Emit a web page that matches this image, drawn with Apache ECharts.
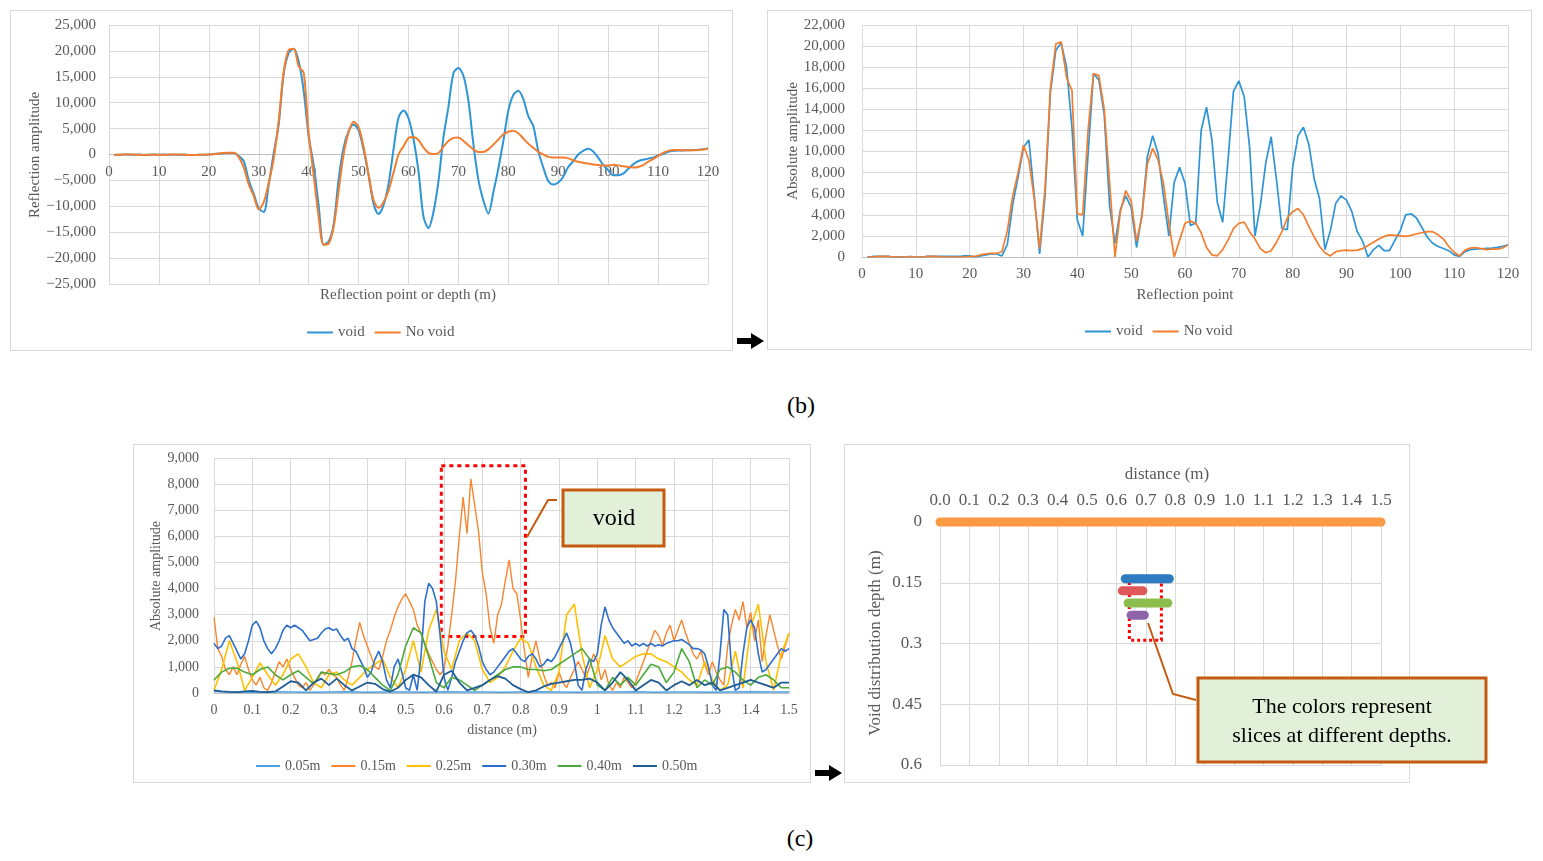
<!DOCTYPE html>
<html>
<head>
<meta charset="utf-8">
<title>Void reflection slices</title>
<script src="https://cdn.jsdelivr.net/npm/echarts@6/dist/echarts.min.js"></script>
<style>
  html, body { margin: 0; padding: 0; background: #fff; }
  #wrap { position: relative; width: 1543px; height: 861px; overflow: hidden; font-family: 'Liberation Serif', serif; }
  .frame { position: absolute; border: 1px solid #D9D9D9; background: #fff; box-sizing: border-box; }
  .cap { position: absolute; font-size: 24px; color: #000; transform: translate(-50%, -50%); }
  #chart { position: absolute; left: 0; top: 0; width: 1543px; height: 861px; }
</style>
</head>
<body>
<div id="wrap">
  <div class="frame" style="left:10px;top:10px;width:723px;height:341px"></div>
  <div class="frame" style="left:767px;top:10px;width:765px;height:340px"></div>
  <div class="frame" style="left:133px;top:444px;width:678px;height:339px"></div>
  <div class="frame" style="left:844px;top:444px;width:566px;height:339px"></div>
  <div class="cap" style="left:801px;top:405px">(b)</div>
  <div class="cap" style="left:800px;top:838px">(c)</div>
  <div id="chart"></div>
</div>
<script>
// ---- (b) reflection points 1..120
const reflPoints = Array.from({length: 120}, (_, i) => i + 1);

// signed reflection amplitude
const ampVoid = [
  -100, -50, 0, 0, -50, 0, -100, -50, 0, -50,
  0, -50, 0, -50, 0, -100, -100, -50, -50, 0,
  100, 150, 250, 300, 300, -300, -1300, -5000, -7600, -10400,
  -11100, -5800, 300, 5800, 15600, 19600, 20400, 18000, 12300, 3500,
  -2000, -9800, -17400, -16800, -13500, -4800, 1300, 4500, 5800, 4700,
  900, -4000, -9500, -11500, -9800, -5700, 1000, 7100, 8500, 7000,
  3000, -3200, -12000, -14200, -11100, -5200, 3300, 9200, 15700, 16700,
  15200, 10400, 2000, -4900, -8900, -11400, -7300, -2700, 2600, 8500,
  11500, 12300, 10700, 7400, 5500, 700, -2500, -5100, -5800, -5400,
  -4300, -2400, -1300, 0, 700, 1100, 600, -600, -2000, -3000,
  -4000, -4000, -3700, -2800, -1900, -1300, -1000, -800, -600, -200,
  100, 500, 700, 750, 780, 820, 850, 920, 1000, 1150
];
const ampNoVoid = [
  -100, -50, 0, 0, 0, -50, -100, -50, 0, -50,
  -50, 0, 0, 0, -50, -100, -100, -50, -50, 0,
  50, 200, 300, 350, 350, -500, -2500, -5800, -8000, -10600,
  -9200, -5500, -800, 6500, 16000, 20200, 20400, 17000, 15800, 4100,
  -4000, -12000, -17400, -17200, -14000, -7000, 0, 4300, 6300, 5300,
  1500, -3800, -8800, -10300, -9200, -7000, -3500, 0, 1600, 3200,
  3400, 2800, 1350, 300, 100, 300, 1500, 2600, 3200, 3300,
  2600, 1800, 1000, 500, 500, 1000, 1900, 2900, 3900, 4400,
  4600, 4100, 3100, 2100, 1300, 500, 0, -450, -600, -600,
  -600, -750, -1100, -1400, -1600, -1750, -1950, -2050, -2100, -2100,
  -2000, -2100, -2250, -2400, -2500, -2400, -2050, -1400, -900, -250,
  300, 700, 850, 850, 800, 800, 800, 850, 950, 1150
];

// absolute amplitude
const absVoid = [
  0, 50, 50, 50, 50, 0, 0, 0, 50, 0,
  0, 50, 50, 50, 50, 50, 50, 50, 100, 100,
  0, 100, 200, 300, 300, 100, 1200, 5000, 7600, 10400,
  11100, 5800, 300, 5800, 15600, 19600, 20300, 18000, 12300, 3500,
  2000, 9800, 17400, 16800, 13500, 4800, 1300, 4500, 5800, 4700,
  900, 4000, 9500, 11500, 9800, 5700, 2000, 7100, 8500, 7000,
  3000, 3200, 12000, 14200, 11100, 5200, 3300, 9200, 15700, 16700,
  15200, 10400, 2000, 4900, 8900, 11400, 7300, 2700, 2600, 8500,
  11500, 12300, 10700, 7400, 5500, 700, 2500, 5100, 5800, 5400,
  4300, 2400, 1500, 0, 700, 1100, 600, 600, 1600, 2500,
  4000, 4100, 3700, 2800, 1900, 1300, 1000, 800, 600, 200,
  50, 500, 700, 750, 780, 820, 850, 920, 1000, 1150
];
const absNoVoid = [
  0, 0, 50, 50, 50, 0, 0, 0, 50, 0,
  0, 50, 50, 50, 0, 0, 0, 0, 0, 50,
  50, 200, 300, 350, 350, 500, 2500, 5800, 8000, 10600,
  9200, 5500, 800, 6500, 16000, 20200, 20400, 17000, 15800, 4100,
  4000, 12000, 17400, 17200, 14000, 7000, 0, 4300, 6300, 5300,
  1500, 3800, 8800, 10300, 9200, 7000, 3200, 0, 1600, 3200,
  3400, 3200, 2300, 900, 200, 100, 700, 1600, 2700, 3200,
  3300, 2400, 1700, 800, 400, 600, 1400, 2400, 3700, 4300,
  4600, 4000, 2900, 1900, 1000, 400, 100, 500, 600, 650,
  600, 650, 800, 1100, 1400, 1700, 1950, 2100, 2050, 2000,
  1950, 2050, 2200, 2300, 2400, 2400, 2100, 1700, 1000, 450,
  100, 650, 850, 900, 800, 700, 750, 750, 850, 1150
];

// ---- (c) slices along distance (m)
const distFine = Array.from({length: 151}, (_, i) => +(i * 0.01).toFixed(2));
const distMid = Array.from({length: 76}, (_, i) => +(i * 0.02).toFixed(2));
const distCoarse = Array.from({length: 31}, (_, i) => +(i * 0.05).toFixed(2));

const amp005 = [60, 40, 30, 50, 40, 30, 40, 50, 30, 40, 40, 30, 50, 40, 40, 30,
  40, 50, 40, 30, 40, 40, 50, 30, 40, 40, 30, 40, 50, 40, 40];
const amp015 = [
  2900, 1700, 1400, 900, 700, 1000, 700, 1100, 1400, 900,
  500, 300, 600, 200, 100, 400, 800, 1200, 1000, 1300,
  900, 600, 300, 200, 400, 100, 300, 500, 800, 700,
  900, 700, 600, 300, 100, 600, 1200, 2000, 2700, 2200,
  1800, 1400, 1000, 900, 1400, 2000, 2400, 2900, 3300, 3600,
  3800, 3500, 3200, 2600, 2300, 1900, 1500, 1200, 900, 700,
  900, 1800, 3000, 4300, 6000, 7500, 6100, 8200, 7200, 6200,
  4600, 3800, 2500, 1900, 3000, 3400, 4300, 5100, 4000, 3800,
  2800, 1600, 600, 1400, 2000, 1300, 700, 300, 400, 200,
  800, 400, 200, 600, 900, 1200, 900, 600, 1000, 1500,
  1200, 500, 900, 300, 100, 400, 200, 600, 400, 200,
  400, 800, 1200, 1600, 2000, 2400, 2200, 1800, 2300, 2600,
  2000, 2400, 2800, 2300, 1900, 1500, 1300, 1600, 1100, 700,
  1200, 800, 500, 300, 1800, 2600, 3200, 2800, 3500, 2500,
  3100, 2000, 2800, 1200, 2200, 3000, 2400, 1800, 1300, 1800, 2300
];
const amp025 = [
  100, 900, 2000, 1200, 100, 600, 1150, 700, 300, 700,
  1300, 1500, 1000, 400, 200, 700, 800, 500, 300, 600,
  900, 1100, 1300, 600, 200, 900, 2000, 800, 2400, 3200,
  1600, 900, 2000, 2300, 2000, 900, 400, 600, 1000, 1600,
  2100, 1900, 1000, 300, 100, 800, 3000, 3400, 1500, 200,
  900, 2200, 1300, 1000, 1200, 1400, 1500, 1500, 1300, 1200,
  1000, 800, 500, 300, 1200, 500, 100, 300, 1600, 200,
  2500, 3400, 1200, 100, 1500, 2300
];
const amp030 = [
  1900, 1700, 1800, 2100, 2200, 1900, 1600, 1300, 1500, 2000,
  2600, 2750, 2500, 2000, 1700, 1500, 1700, 2000, 2400, 2600,
  2500, 2600, 2500, 2400, 2200, 2000, 2050, 2100, 2300, 2450,
  2500, 2400, 2450, 2200, 2000, 2100, 1700, 1600, 1300, 1000,
  600, 800, 1300, 1600, 1200, 500, 200, 1000, 1300, 800,
  200, 100, 700, 100, 1400, 3500, 4200, 4000, 3500, 2200,
  600, 100, 600, 1200, 1600, 2000, 2300, 2400, 2200, 1800,
  1200, 900, 700, 800, 1000, 1200, 1400, 1600, 1700, 1500,
  1300, 1200, 1400, 1500, 1300, 1000, 1100, 1300, 1200, 1400,
  1700, 2000, 2300, 1900, 1200, 300, 100, 900, 1300, 1200,
  1500, 2600, 3300, 2800, 2500, 2300, 2100, 1900, 2000, 1800,
  1900, 1800, 1900, 1800, 1900, 1800, 1850, 1800, 1900, 1950,
  2000, 2000, 2050, 1950, 1850, 1700, 1700, 1650, 1500, 1000,
  300, 100, 1500, 3200, 3000, 1000, 100, 200, 1500, 2500,
  2800, 2500, 1500, 800, 900, 1100, 1300, 1500, 1700, 1600, 1700
];
const amp040 = [
  500, 800, 950, 950, 800, 700, 900, 1000, 700, 500,
  700, 850, 600, 350, 800, 750, 700, 800, 1000, 1050,
  900, 600, 300, 100, 700, 1800, 2500, 2300, 1400, 400,
  200, 600, 500, 300, 100, 300, 500, 700, 900, 1000,
  1000, 900, 900, 850, 900, 1100, 1300, 1500, 1700, 1300,
  300, 100, 600, 300, 600, 300, 700, 1100, 1000, 400,
  800, 1700, 1200, 200, 500, 300, 900, 1000, 800, 500,
  300, 600, 700, 500, 200, 200
];
const amp050 = [
  100, 60, 40, 30, 60, 80, 40, 30, 60, 250,
  450, 400, 100, 400, 550, 300, 550, 300, 100, 250,
  400, 350, 150, 50, 200, 500, 700, 600, 300, 50,
  700, 850, 400, 100, 200, 300, 500, 650, 550, 300,
  150, 30, 100, 250, 350, 400, 450, 500, 500, 550,
  400, 100, 400, 800, 500, 100, 300, 500, 400, 100,
  300, 450, 300, 500, 300, 400, 100, 200, 300, 400,
  500, 400, 300, 200, 400, 400
];

// void distribution: slice segments (distance from / to, depth)
const sliceFrom = [0, 0.63, 0.62, 0.64, 0.65];
const sliceTo = [1.5, 0.78, 0.69, 0.775, 0.695];
const sliceDepth = [0, 0.14, 0.17, 0.20, 0.23];

const C_VOID = '#2E95D6', C_NOVOID = '#F47D2E';
const sliceColors = ['#FA9A42', '#2E7BC2', '#E0575A', '#8CBE4E', '#8E63A8'];
const depthColors = ['#4C9FE0', '#F7862E', '#FFC000', '#2D6FCB', '#4CAA3A', '#1F5D94'];
const FONT = 'Liberation Serif';

function pairs(xs, ys) {
  return xs.map((x, i) => [x, ys[i]]);
}
function thousands(v) {
  return (v < 0 ? '\u2212' : '') + Math.abs(v).toLocaleString('en-US');
}

let gridLine = {lineStyle: {color: '#D9D9D9', width: 1}};
let lbl = (size, margin, fmt) => ({color: '#595959', fontSize: size, fontFamily: FONT, margin: margin, formatter: fmt});
let axisTitle = (text, x, y, size, vertical) => ({
  type: 'text', x: x, y: y, rotation: vertical ? Math.PI / 2 : 0, silent: true,
  style: {text: text, fill: '#595959', font: size + 'px "' + FONT + '"', textAlign: 'center', textVerticalAlign: 'middle'}
});
let legendBase = {
  icon: 'rect', itemHeight: 2, selectedMode: false,
  textStyle: {color: '#595959', fontFamily: FONT}
};

let chart = echarts.init(document.getElementById('chart'));

let series = [
  {name: 'void', data: pairs(reflPoints, ampVoid), color: C_VOID, grid: 0, smooth: 0.3, width: 2},
  {name: 'No void', data: pairs(reflPoints, ampNoVoid), color: C_NOVOID, grid: 0, smooth: 0.3, width: 2},
  {name: 'void', data: pairs(reflPoints, absVoid), color: C_VOID, grid: 1, smooth: false, width: 1.7},
  {name: 'No void', data: pairs(reflPoints, absNoVoid), color: C_NOVOID, grid: 1, smooth: false, width: 1.7},
  {name: '0.05m', data: pairs(distCoarse, amp005), color: depthColors[0], grid: 2, width: 1.4},
  {name: '0.15m', data: pairs(distFine, amp015), color: depthColors[1], grid: 2, width: 1.4},
  {name: '0.25m', data: pairs(distMid, amp025), color: depthColors[2], grid: 2, width: 1.6},
  {name: '0.30m', data: pairs(distFine, amp030), color: depthColors[3], grid: 2, width: 1.6},
  {name: '0.40m', data: pairs(distMid, amp040), color: depthColors[4], grid: 2, width: 1.6},
  {name: '0.50m', data: pairs(distMid, amp050), color: depthColors[5], grid: 2, width: 1.8}
].map(s => ({
  name: s.name, type: 'line', xAxisIndex: s.grid, yAxisIndex: s.grid,
  data: s.data, symbol: 'none', smooth: s.smooth || false,
  lineStyle: {width: s.width, color: s.color}, itemStyle: {color: s.color},
  emphasis: {disabled: true}
}));

// red dotted frame around the void response
series[5].markArea = {
  silent: true,
  itemStyle: {color: 'rgba(0,0,0,0)', borderColor: '#FF0000', borderWidth: 3, borderType: [4, 4]},
  data: [[{coord: [0.593, 8700]}, {coord: [0.8125, 2160]}]]
};

sliceFrom.forEach((x0, i) => {
  let s = {
    name: 'slice' + i, type: 'line', xAxisIndex: 3, yAxisIndex: 3,
    data: [[x0, sliceDepth[i]], [sliceTo[i], sliceDepth[i]]],
    symbol: 'none', clip: false,
    lineStyle: {width: 9, color: sliceColors[i], cap: 'round'},
    itemStyle: {color: sliceColors[i]}, emphasis: {disabled: true}
  };
  if (i === 1) {
    s.markArea = {
      silent: true,
      itemStyle: {color: 'rgba(0,0,0,0)', borderColor: '#FF0000', borderWidth: 3, borderType: [3, 3]},
      data: [[{coord: [0.644, 0.142]}, {coord: [0.753, 0.292]}]]
    };
  }
  series.push(s);
});

let option = {
  animation: false,
  textStyle: {fontFamily: FONT},
  grid: [
    {left: 109, top: 25, width: 599, height: 259},
    {left: 862, top: 25, width: 646, height: 232},
    {left: 214, top: 458, width: 575, height: 235},
    {left: 940, top: 522, width: 441, height: 243}
  ],
  legend: [
    Object.assign({}, legendBase, {data: ['void', 'No void'], left: 302, top: 320, itemWidth: 26, itemGap: 10,
      textStyle: {color: '#595959', fontFamily: FONT, fontSize: 15}}),
    Object.assign({}, legendBase, {data: ['void', 'No void'], left: 1080, top: 319, itemWidth: 26, itemGap: 10,
      textStyle: {color: '#595959', fontFamily: FONT, fontSize: 15}}),
    Object.assign({}, legendBase, {data: ['0.05m', '0.15m', '0.25m', '0.30m', '0.40m', '0.50m'], left: 251, top: 754,
      itemWidth: 24, itemGap: 11, textStyle: {color: '#595959', fontFamily: FONT, fontSize: 14}})
  ],
  xAxis: [
    // axis sits on the zero line, half the grid height up from the bottom
    {gridIndex: 0, type: 'value', min: 0, max: 120, interval: 10, offset: -129.5,
      axisLine: {onZero: false, lineStyle: {color: '#BFBFBF'}}, axisTick: {show: false},
      axisLabel: lbl(15, 10), splitLine: gridLine},
    {gridIndex: 1, type: 'value', min: 0, max: 120, interval: 10,
      axisLine: {lineStyle: {color: '#BFBFBF'}}, axisTick: {show: false},
      axisLabel: lbl(15, 10), splitLine: gridLine},
    {gridIndex: 2, type: 'value', min: 0, max: 1.5, interval: 0.1,
      axisLine: {lineStyle: {color: '#BFBFBF'}}, axisTick: {show: false},
      axisLabel: lbl(14, 10, v => String(+v.toFixed(1))), splitLine: gridLine},
    {gridIndex: 3, type: 'value', position: 'top', min: 0, max: 1.5, interval: 0.1,
      axisLine: {show: false}, axisTick: {show: false},
      axisLabel: lbl(17, 13, v => v.toFixed(1)), splitLine: gridLine}
  ],
  yAxis: [
    {gridIndex: 0, type: 'value', min: -25000, max: 25000, interval: 5000,
      axisLine: {show: false}, axisTick: {show: false},
      axisLabel: lbl(15, 13, thousands), splitLine: gridLine},
    {gridIndex: 1, type: 'value', min: 0, max: 22000, interval: 2000,
      axisLine: {show: false}, axisTick: {show: false},
      axisLabel: lbl(15, 17, thousands), splitLine: gridLine},
    {gridIndex: 2, type: 'value', min: 0, max: 9000, interval: 1000,
      axisLine: {show: false}, axisTick: {show: false},
      axisLabel: lbl(14, 15, thousands), splitLine: gridLine},
    {gridIndex: 3, type: 'value', inverse: true, min: 0, max: 0.6, interval: 0.15,
      axisLine: {show: false}, axisTick: {show: false},
      axisLabel: lbl(17, 18, v => String(+v.toFixed(2))), splitLine: gridLine}
  ],
  series: series,
  graphic: [
    axisTitle('Reflection amplitude', 35, 155, 15, true),
    axisTitle('Reflection point or depth (m)', 408, 295, 15),
    axisTitle('Absolute amplitude', 793, 141, 15, true),
    axisTitle('Reflection point', 1185, 295, 15),
    axisTitle('Absolute amplitude', 156, 576, 14, true),
    axisTitle('distance (m)', 502, 730, 14),
    axisTitle('distance (m)', 1167, 475, 17),
    axisTitle('Void distribution depth (m)', 876, 643, 17, true),
    // arrows between panels
    {type: 'polygon', silent: true, shape: {points: [[737, 338], [751, 338], [751, 333], [764, 341], [751, 349], [751, 344], [737, 344]]}, style: {fill: '#000'}},
    {type: 'polygon', silent: true, shape: {points: [[815, 770], [829, 770], [829, 765], [842, 773], [829, 781], [829, 776], [815, 776]]}, style: {fill: '#000'}},
    // callouts
    {type: 'polyline', silent: true, z: 100, shape: {points: [[527, 537], [548, 500], [557, 500]]}, style: {stroke: '#C55A11', lineWidth: 2, fill: null}},
    {type: 'rect', silent: true, z: 100, shape: {x: 563, y: 490, width: 101, height: 56}, style: {fill: '#E2F0D9', stroke: '#C55A11', lineWidth: 3}},
    {type: 'text', silent: true, z: 101, x: 614, y: 519, style: {text: 'void', fill: '#000', font: '24px "Liberation Serif"', textAlign: 'center', textVerticalAlign: 'middle'}},
    {type: 'polyline', silent: true, z: 100, shape: {points: [[1148, 623], [1173, 694], [1196, 700]]}, style: {stroke: '#C55A11', lineWidth: 2, fill: null}},
    {type: 'rect', silent: true, z: 100, shape: {x: 1198, y: 678, width: 288, height: 84}, style: {fill: '#E2F0D9', stroke: '#C55A11', lineWidth: 3}},
    {type: 'text', silent: true, z: 101, x: 1342, y: 707, style: {text: 'The colors represent', fill: '#000', font: '22px "Liberation Serif"', textAlign: 'center', textVerticalAlign: 'middle'}},
    {type: 'text', silent: true, z: 101, x: 1342, y: 736, style: {text: 'slices at different depths.', fill: '#000', font: '22px "Liberation Serif"', textAlign: 'center', textVerticalAlign: 'middle'}}
  ]
};
chart.setOption(option);
</script>
</body>
</html>
